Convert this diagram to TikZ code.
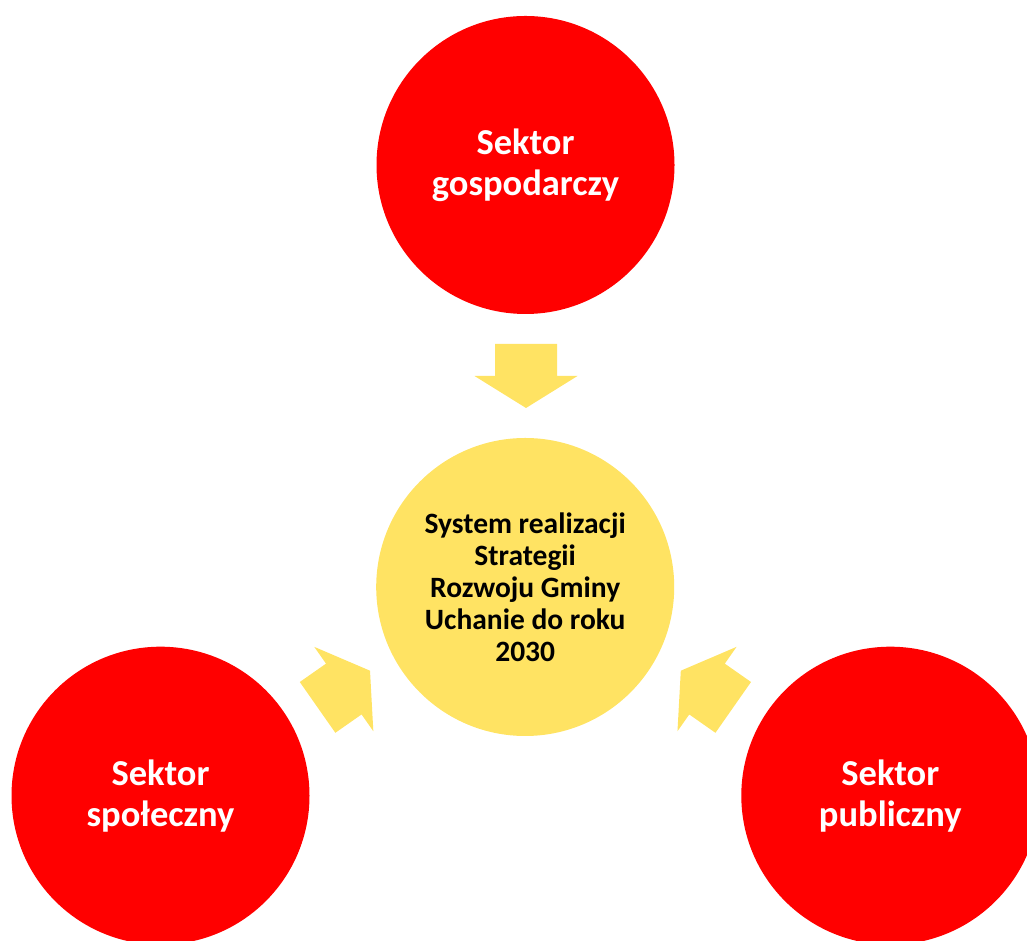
\documentclass[tikz,border=0pt]{standalone}
\usepackage{fontspec}
\setmainfont{Carlito}
\definecolor{secred}{RGB}{255,0,0}
\definecolor{sysyel}{RGB}{255,227,99}
\begin{document}
\begin{tikzpicture}[x=1pt,y=1pt,
  sector/.style={circle, fill=secred, minimum size=298pt, inner sep=0pt, align=center, text=white, font=\bfseries\fontsize{36.5}{41}\selectfont},
  core/.style={circle, fill=sysyel, minimum size=298pt, inner sep=0pt, align=center, text=black, font=\bfseries\fontsize{29.5}{32}\selectfont},
  blockarrow/.pic={\fill[sysyel] (0,0) -- (-32,51.5) -- (-32,31) -- (-64,31) -- (-64,-31) -- (-32,-31) -- (-32,-51.5) -- cycle;}]
\useasboundingbox (0,0) rectangle (1027,941);
\node[sector] (gosp) at (525.5,776) {Sektor\\gospodarczy};
\node[core] (sys) at (525.2,354) {System realizacji\\Strategii\\Rozwoju Gminy\\Uchanie do roku\\2030};
\node[sector] (spol) at (160.5,145.3) {Sektor\\społeczny};
\node[sector] (publ) at (890.3,145.3) {Sektor\\publiczny};
\pic[rotate=-90] (arrtop) at (526,533) {blockarrow};
\pic[rotate=35] (arrleft) at (370,270.3) {blockarrow};
\pic[rotate=145] (arrright) at (680.8,270.3) {blockarrow};
\end{tikzpicture}
\end{document}
